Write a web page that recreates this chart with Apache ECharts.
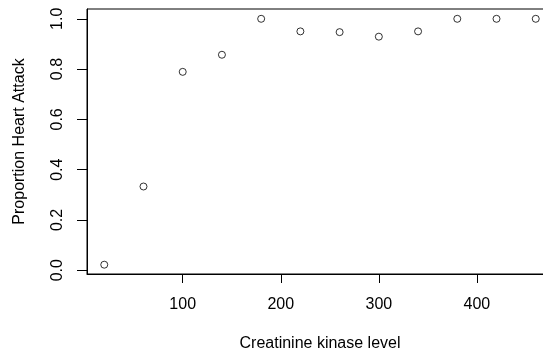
<!DOCTYPE html>
<html><head><meta charset="utf-8">
<script src="https://cdn.jsdelivr.net/npm/echarts@6/dist/echarts.min.js"></script>
<style>html,body{margin:0;padding:0;background:#fff}#c{width:543px;height:353px}</style>
</head><body><div id="c"></div>
<script>
const ckLevels = [20, 60, 100, 140, 180, 220, 260, 300, 340, 380, 420, 460];
const proportion = [0.022, 0.333, 0.789, 0.857, 1.0, 0.95, 0.947, 0.929, 0.95, 1.0, 1.0, 1.0];
const xTicks = [100, 200, 300, 400];
const yTicks = [0, 0.2, 0.4, 0.6, 0.8, 1.0];
const xTitle = 'Creatinine kinase level';
const yTitle = 'Proportion Heart Attack';

const font = 'Liberation Sans, Arial, Helvetica, sans-serif';
const chart = echarts.init(document.getElementById('c'), null, {renderer: 'canvas'});
chart.setOption({
  animation: false,
  backgroundColor: '#fff',
  grid: {left: 87, top: 9, width: 466, height: 265, outerBoundsMode: 'none', containLabel: false,
    show: true, borderColor: '#000', borderWidth: 1, backgroundColor: 'transparent'},
  xAxis: {
    type: 'value', min: 2.4, max: 477.6,
    name: xTitle, nameLocation: 'middle', nameGap: 62,
    nameTextStyle: {fontFamily: font, fontSize: 16, color: '#000'},
    splitLine: {show: false},
    axisLine: {show: true, onZero: false, lineStyle: {color: '#000', width: 1}},
    axisTick: {show: true, length: 9, lineStyle: {color: '#000'}, customValues: xTicks},
    axisLabel: {fontFamily: font, fontSize: 16, color: '#000', margin: 23, customValues: xTicks}
  },
  yAxis: {
    type: 'value', min: -0.015, max: 1.039,
    name: yTitle, nameLocation: 'middle', nameGap: 59, nameRotate: 90,
    nameTextStyle: {fontFamily: font, fontSize: 16, color: '#000'},
    splitLine: {show: false},
    axisLine: {show: true, onZero: false, lineStyle: {color: '#000', width: 1}},
    axisTick: {show: true, length: 10, lineStyle: {color: '#000'}, customValues: yTicks},
    axisLabel: {fontFamily: font, fontSize: 16, color: '#000', rotate: 90, margin: 21,
      customValues: yTicks, formatter: v => v.toFixed(1)}
  },
  series: [{
    type: 'scatter',
    data: ckLevels.map((x, i) => [x, proportion[i]]),
    symbol: 'circle', symbolSize: 7,
    itemStyle: {color: '#fff', borderColor: '#000', borderWidth: 1}
  }]
});
</script></body></html>
